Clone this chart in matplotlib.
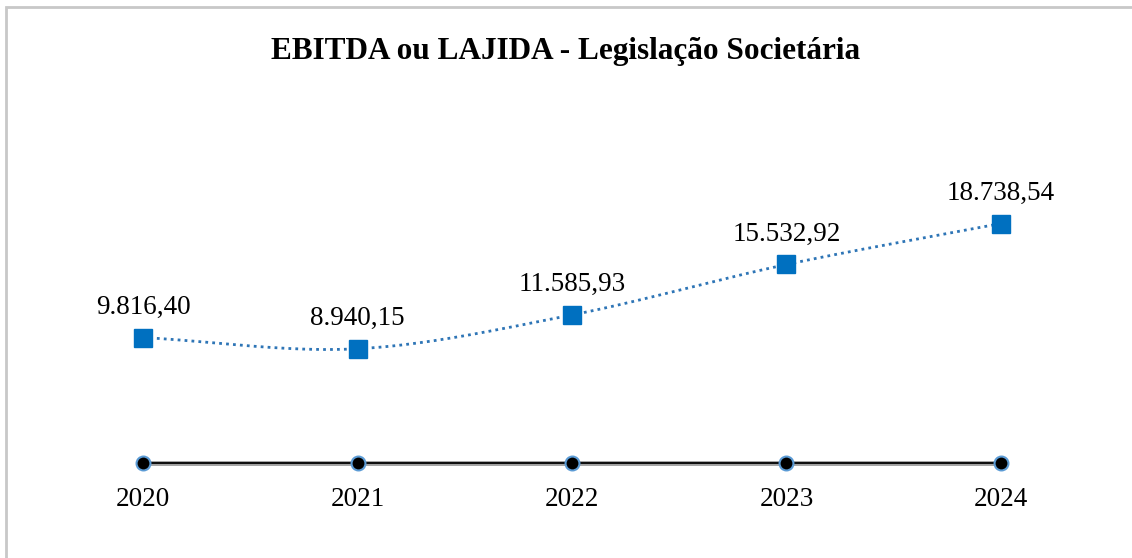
import numpy as np
import matplotlib.pyplot as plt
from matplotlib.patches import Rectangle

years = ['2020', '2021', '2022', '2023', '2024']
ebitda = [9816.40, 8940.15, 11585.93, 15532.92, 18738.54]
labels = ['9.816,40', '8.940,15', '11.585,93', '15.532,92', '18.738,54']

plt.rcParams['font.family'] = ['Liberation Serif', 'DejaVu Serif']


def catmull_rom(x, y, n=40):
    # smoothed line like the spreadsheet "smooth line" option
    x = np.asarray(x, float)
    y = np.asarray(y, float)
    px = np.concatenate([[2 * x[0] - x[1]], x, [2 * x[-1] - x[-2]]])
    py = np.concatenate([[2 * y[0] - y[1]], y, [2 * y[-1] - y[-2]]])
    xs, ys = [], []
    t = np.linspace(0, 1, n)
    for i in range(1, len(px) - 2):
        for p, out in ((px, xs), (py, ys)):
            p0, p1, p2, p3 = p[i - 1], p[i], p[i + 1], p[i + 2]
            out.extend(0.5 * ((2 * p1) + (-p0 + p2) * t
                              + (2 * p0 - 5 * p1 + 4 * p2 - p3) * t ** 2
                              + (-p0 + 3 * p1 - 3 * p2 + p3) * t ** 3))
    return np.array(xs), np.array(ys)


W, H = 1132, 558
fig = plt.figure(figsize=(W / 100, H / 100), dpi=100)
fig.patches.append(Rectangle((6 / W, -0.01), 1.02, 1 - 7 / H + 0.01, transform=fig.transFigure,
                             fill=False, edgecolor='#c8c8c8', linewidth=2))

ax = fig.add_axes([50 / W, (H - 463) / H, 1044 / W, 313 / H])
x = np.arange(len(years))
ax.set_xlim(-0.4336, 4.4336)
ax.set_ylim(0, 24491)
for s in ax.spines.values():
    s.set_visible(False)
ax.set_yticks([])
ax.set_xticks(x)
ax.set_xticklabels(years, fontsize=19.5)
ax.tick_params(axis='x', length=0, pad=17)

# zero axis line
ax.plot([0, 4], [0, 0], color='#a0a0a0', lw=3.5, clip_on=False, zorder=2)
ax.plot([0, 4], [0, 0], color='black', lw=1.3, clip_on=False, zorder=3)
ax.plot(x, [0] * len(x), 'o', ms=10, mfc='black', mec='#5b9bd5', mew=1.5,
        clip_on=False, zorder=4)

sx, sy = catmull_rom(x, ebitda)
ax.plot(sx, sy, color='#2e75b6', lw=2, ls=(0, (1, 1.5)), zorder=3)
ax.plot(x, ebitda, 's', ms=12.5, color='#0070c0', zorder=5)

for xi, yi, lab in zip(x, ebitda, labels):
    ax.annotate(lab, (xi, yi), xytext=(0, 13), textcoords='offset points',
                ha='center', va='bottom', fontsize=19.5)

fig.text(0.5, 1 - 52 / H, 'EBITDA ou LAJIDA - Legislação Societária', ha='center', va='center',
         fontsize=22.5, fontweight='bold')

fig.savefig('out.png', dpi=100)
